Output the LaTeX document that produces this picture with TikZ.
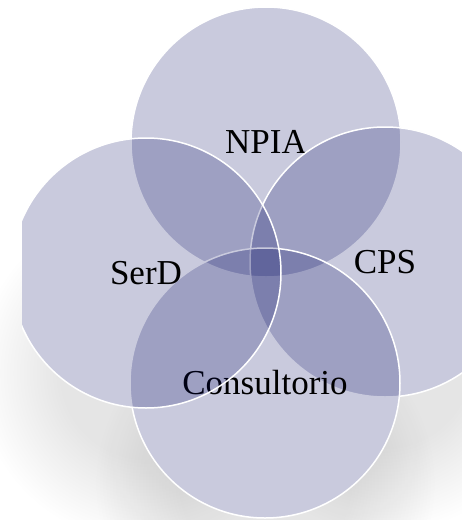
\documentclass[tikz,border=0pt]{standalone}
\usepackage{fontspec}
\setmainfont{Liberation Serif}
\usetikzlibrary{fadings}

\definecolor{vennblue}{RGB}{0,6,96}
\pgfdeclareradialshading{softshadowshade}{\pgfpointorigin}{color(0bp)=(pgftransparent!0); color(12.5bp)=(pgftransparent!0); color(25bp)=(pgftransparent!100); color(50bp)=(pgftransparent!100)}
\pgfdeclarefading{softshadow}{\pgfuseshading{softshadowshade}}

\tikzset{
  set/.style={circle,minimum size=270pt,inner sep=0pt,fill=vennblue,fill opacity=0.21,
    text opacity=1,draw=white,line width=1.5pt,font=\fontsize{35}{40}\selectfont},
  shadowblob/.style={fill=black,fill opacity=0.1,path fading=softshadow}
}

\begin{document}
\begin{tikzpicture}[x=1pt,y=-1pt]
\useasboundingbox (0,0) rectangle (462,520);
\coordinate (ctop) at (266,142);
\coordinate (cright) at (385,262);
\coordinate (cbottom) at (265,383);
\coordinate (cleft) at (146,273);
% soft shadow under the four sets
\fill[shadowblob] ([yshift=-100pt]ctop) circle (170pt);
\fill[shadowblob] ([yshift=-100pt]cright) circle (170pt);
\fill[shadowblob] ([yshift=-100pt]cbottom) circle (170pt);
\fill[shadowblob] ([yshift=-100pt]cleft) circle (170pt);
\begin{scope}
\clip (22,0) rectangle (462,520);
\fill[white] (ctop) circle (135pt);
\fill[white] (cright) circle (135pt);
\fill[white] (cbottom) circle (135pt);
\fill[white] (cleft) circle (135pt);
\node[set] (npia) at (ctop) {NPIA};
\node[set] (cps) at (cright) {CPS};
\node[set] (consultorio) at (cbottom) {Consultorio};
\node[set] (serd) at (cleft) {SerD};
\end{scope}
\end{tikzpicture}
\end{document}
